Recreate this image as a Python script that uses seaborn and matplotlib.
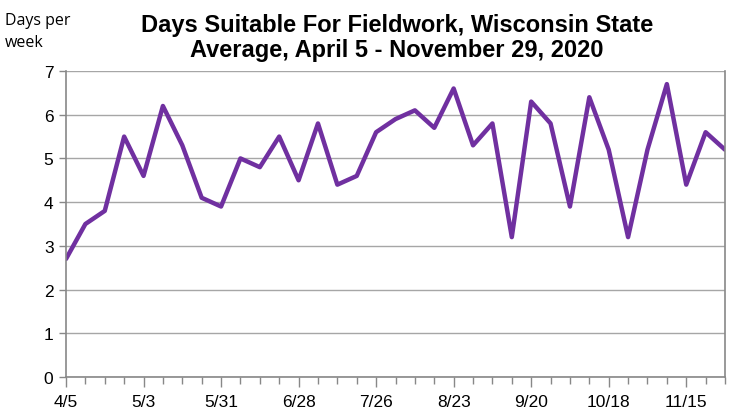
import numpy as np
import pandas as pd
import matplotlib
matplotlib.use("Agg")
import matplotlib.pyplot as plt
import seaborn as sns

# weekly dates, week ending Sundays from 4/5 through 11/29 2020
weeks = pd.date_range("2020-04-05", "2020-11-29", freq="7D")
days_suitable = [2.7, 3.5, 3.8, 5.5, 4.6, 6.2, 5.3, 4.1, 3.9, 5.0,
                 4.8, 5.5, 4.5, 5.8, 4.4, 4.6, 5.6, 5.9, 6.1, 5.7,
                 6.6, 5.3, 5.8, 3.2, 6.3, 5.8, 3.9, 6.4, 5.2, 3.2,
                 5.2, 6.7, 4.4, 5.6, 5.2]
tick_labels = ["4/5", "5/3", "5/31", "6/28", "7/26", "8/23", "9/20", "10/18", "11/15"]

df = pd.DataFrame({"week": np.arange(len(weeks)), "days": days_suitable})

sns.set_style("white")
plt.rcParams["font.family"] = ["Liberation Sans", "DejaVu Sans"]
plt.rcParams["text.color"] = "black"
plt.rcParams["xtick.color"] = "black"
plt.rcParams["ytick.color"] = "black"

fig = plt.figure(figsize=(7.36, 4.10), dpi=100)
ax = fig.add_axes([66 / 736, 1 - 378 / 410, (725 - 66) / 736, (378 - 72) / 410])

sns.lineplot(data=df, x="week", y="days", color="#7030A0", linewidth=3.2, ax=ax)

ax.set_xlim(0, len(weeks) - 1)
ax.set_ylim(0, 7)
ax.set_yticks(range(0, 8))
ax.yaxis.grid(True, color="#a6a6a6", linewidth=1.0)
ax.set_axisbelow(True)

major = [i for i, d in enumerate(weeks) if f"{d.month}/{d.day}" in tick_labels]
ax.set_xticks(major)
ax.set_xticklabels(tick_labels)
ax.set_xticks(np.arange(len(weeks)), minor=True)
ax.tick_params(axis="x", which="major", length=7, width=1, color="#888888",
               labelsize=12.5, labelcolor="black", pad=5, direction="out", bottom=True)
ax.tick_params(axis="x", which="minor", length=5, width=1, color="#888888",
               direction="out", bottom=True)
ax.tick_params(axis="y", length=5, width=1, color="#888888", labelsize=12.5,
               labelcolor="black", direction="out", left=True, pad=4)

for s in ["left", "bottom", "right"]:
    ax.spines[s].set_color("#888888")
    ax.spines[s].set_linewidth(1.2)
ax.spines["top"].set_visible(False)

ax.set_xlabel("")
ax.set_ylabel("")

fig.text(397 / 736, 1 - 38 / 410,
         "Days Suitable For Fieldwork, Wisconsin State\nAverage, April 5 - November 29, 2020",
         ha="center", va="center", fontsize=17, fontweight="bold", linespacing=1.08,
         color="black")
fig.text(5 / 736, 1 - 32 / 410, "Days per\nweek", ha="left", va="center",
         fontsize=11.5, family=["Open Sans", "DejaVu Sans"], linespacing=1.45,
         color="black")

fig.savefig("out.png", dpi=100)
